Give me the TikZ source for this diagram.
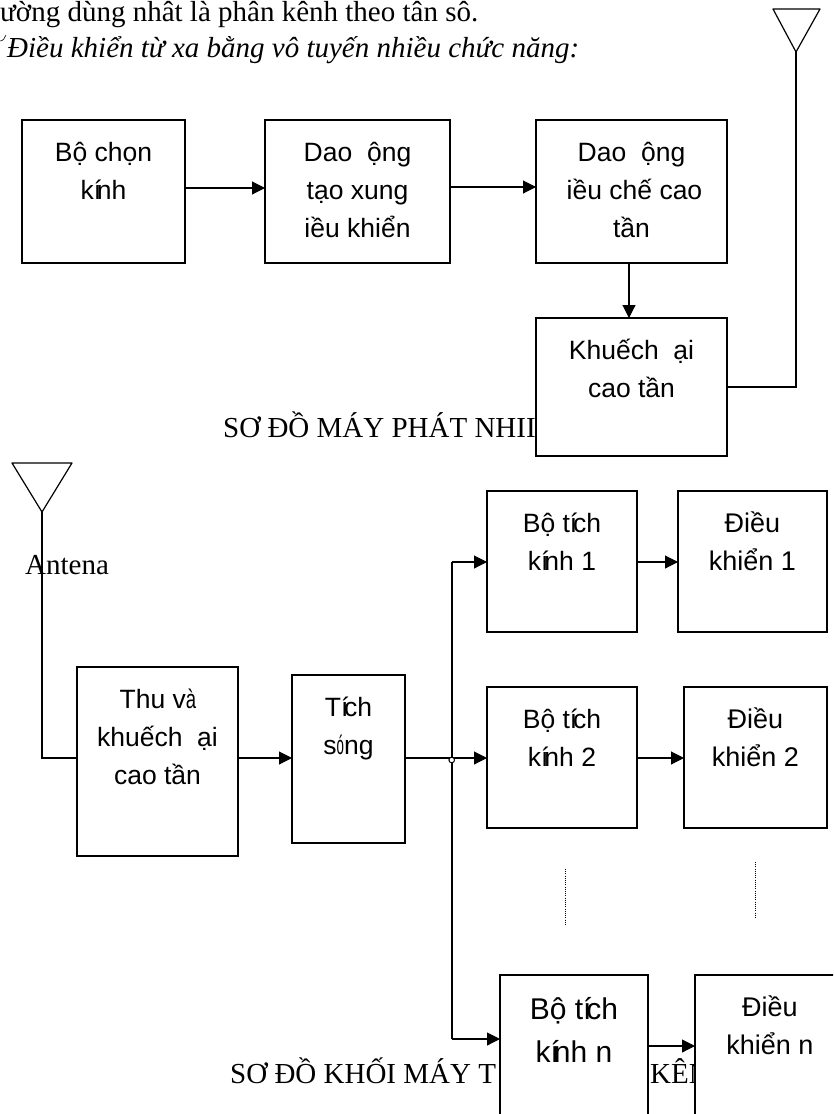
\documentclass[tikz,border=0pt]{standalone}
\usepackage{fontspec}
\usepackage{graphicx}
\setmainfont{Liberation Serif}
\newfontfamily\arialf{Liberation Sans}
\usetikzlibrary{arrows.meta}
\newcommand{\boxtxt}[4][26.5]{\parbox[t][#3pt][t]{#2pt}{\arialf\fontsize{#1}{38}\selectfont\centering\vspace*{14.4pt}\strut #4\par}}
\newcommand{\boxtxtbig}[3]{\parbox[t][#2pt][t]{#1pt}{\arialf\fontsize{30}{43}\selectfont\centering\vspace*{14.5pt}\strut #3\par}}
\newcommand{\ol}[1]{\makebox[3.2pt][l]{#1}}
\newcommand{\nr}[2][.5]{\scalebox{#1}[1]{#2}}
\tikzset{
  bx/.style={draw=black,line width=1.2pt,fill=white,inner sep=0pt,outer sep=0pt,anchor=north west},
  wire/.style={draw=black,line width=1.1pt},
  arr/.style={wire,-{Triangle[length=13pt,width=13pt]}},
  ttl/.style={inner sep=0pt,anchor=base west,font=\fontsize{29}{34}\selectfont},
  dots/.style={draw=black,line width=.9pt,dash pattern=on .9pt off 1.3pt},
  ant/.style={draw=black,line width=1.2pt,line join=round}
}
\begin{document}
\begin{tikzpicture}[x=1pt,y=-1pt]
\useasboundingbox (0,0) rectangle (833,1114);
\clip (0,0) rectangle (833,1114);
% top text
\node[ttl] (l1) at (0,21) {ường dùng nhât là phân kênh theo tân sô.};
\node[ttl] (l2) at (7,57) {\itshape Điều khiển từ xa bằng vô tuyến nhiều chức năng:};
\draw[line width=.6pt] (0,41) .. controls (3,41) and (5,38) .. (6,35);
% titles (partly hidden by boxes)
\node[ttl] (t1) at (223,437) {SƠ ĐỒ MÁY PHÁT NHII};
\node[ttl] (t2) at (230,1083) {SƠ ĐỒ KHỐI MÁY T};
\node[ttl] (t3) at (650,1083) {KÊN};
% transmitter boxes
\node[bx] (a) at (22,120) {\boxtxt{163}{143}{Bộ chọn\\k\ol{í}nh}};
\node[bx] (b) at (265,120) {\boxtxt{185}{143}{Dao \ ộng\\tạo xung\\iều khiển}};
\node[bx] (c) at (536,120) {\boxtxt{191}{143}{Dao \ ộng\\\hspace*{6pt}iều chế cao\\tần}};
\node[bx] (d) at (536,318) {\boxtxt{191}{138}{Khuếch \ ại\\cao tần}};
\draw[arr] (a.east |- 0,188) -- (b.west |- 0,188);
\draw[arr] (b.east |- 0,187) -- (c.west |- 0,187);
\draw[arr] (c.south -| 629,0) -- (d.north -| 629,0);
\coordinate (ap1) at (796,52);
\draw[ant] (773,9) -- (820,9) -- (ap1) -- cycle;
\draw[wire] (ap1) -- (796,387) -- (d.east |- 0,387);
% receiver boxes
\node[bx] (e) at (77,667) {\boxtxt{161}{189}{\hspace*{1pt}Thu v\nr[.7]{à}\\khuếch \ ại\\cao tần}};
\node[bx] (f) at (292,675) {\boxtxt{113}{168}{T\ol{í}ch\\s\nr{ó}ng}};
\node[bx] (g1) at (487,491) {\boxtxt{150}{141}{Bộ t\ol{í}ch\\k\ol{í}nh 1}};
\node[bx] (h1) at (678,491) {\boxtxt[27]{149}{141}{Điều\\khiển 1}};
\node[bx] (g2) at (487,687) {\boxtxt{150}{141}{Bộ t\ol{í}ch\\k\ol{í}nh 2}};
\node[bx] (h2) at (684,687) {\boxtxt[27]{143}{141}{Điều\\khiển 2}};
\node[bx] (g3) at (500,975) {\boxtxtbig{148}{160}{Bộ t\ol{í}ch\\k\ol{í}nh n}};
\node[bx] (h3) at (695,975) {\boxtxt[27]{150}{160}{Điều\\khiển n}};
\coordinate (ap2) at (42,512);
\draw[ant] (12,463) -- (72,463) -- (ap2) -- cycle;
\draw[wire] (ap2) -- (42,758) -- (e.west |- 0,758);
\node[ttl] (an) at (25,574) {Antena};
\draw[arr] (e.east |- 0,758) -- (f.west |- 0,758);
\coordinate (j) at (452,758);
\draw[arr] (f.east |- 0,758) -- (g2.west |- 0,758);
\draw[arr] (j |- 0,562) -- (g1.west |- 0,562);
\draw[wire] (j |- 0,562) -- (j |- 0,1039);
\draw[arr] (j |- 0,1039) -- (g3.west |- 0,1039);
\draw[line width=1pt,fill=white] (451.7,760) circle (2.8pt);
\draw[arr] (g1.east |- 0,562) -- (h1.west |- 0,562);
\draw[arr] (g2.east |- 0,758) -- (h2.west |- 0,758);
\draw[arr] (g3.east |- 0,1046) -- (h3.west |- 0,1046);
\coordinate (d1a) at (565,869); \coordinate (d1b) at (565,926);
\coordinate (d2a) at (755,862); \coordinate (d2b) at (755,919);
\draw[dots] (d1a) -- (d1b);
\draw[dots] (d2a) -- (d2b);
\end{tikzpicture}
\end{document}
